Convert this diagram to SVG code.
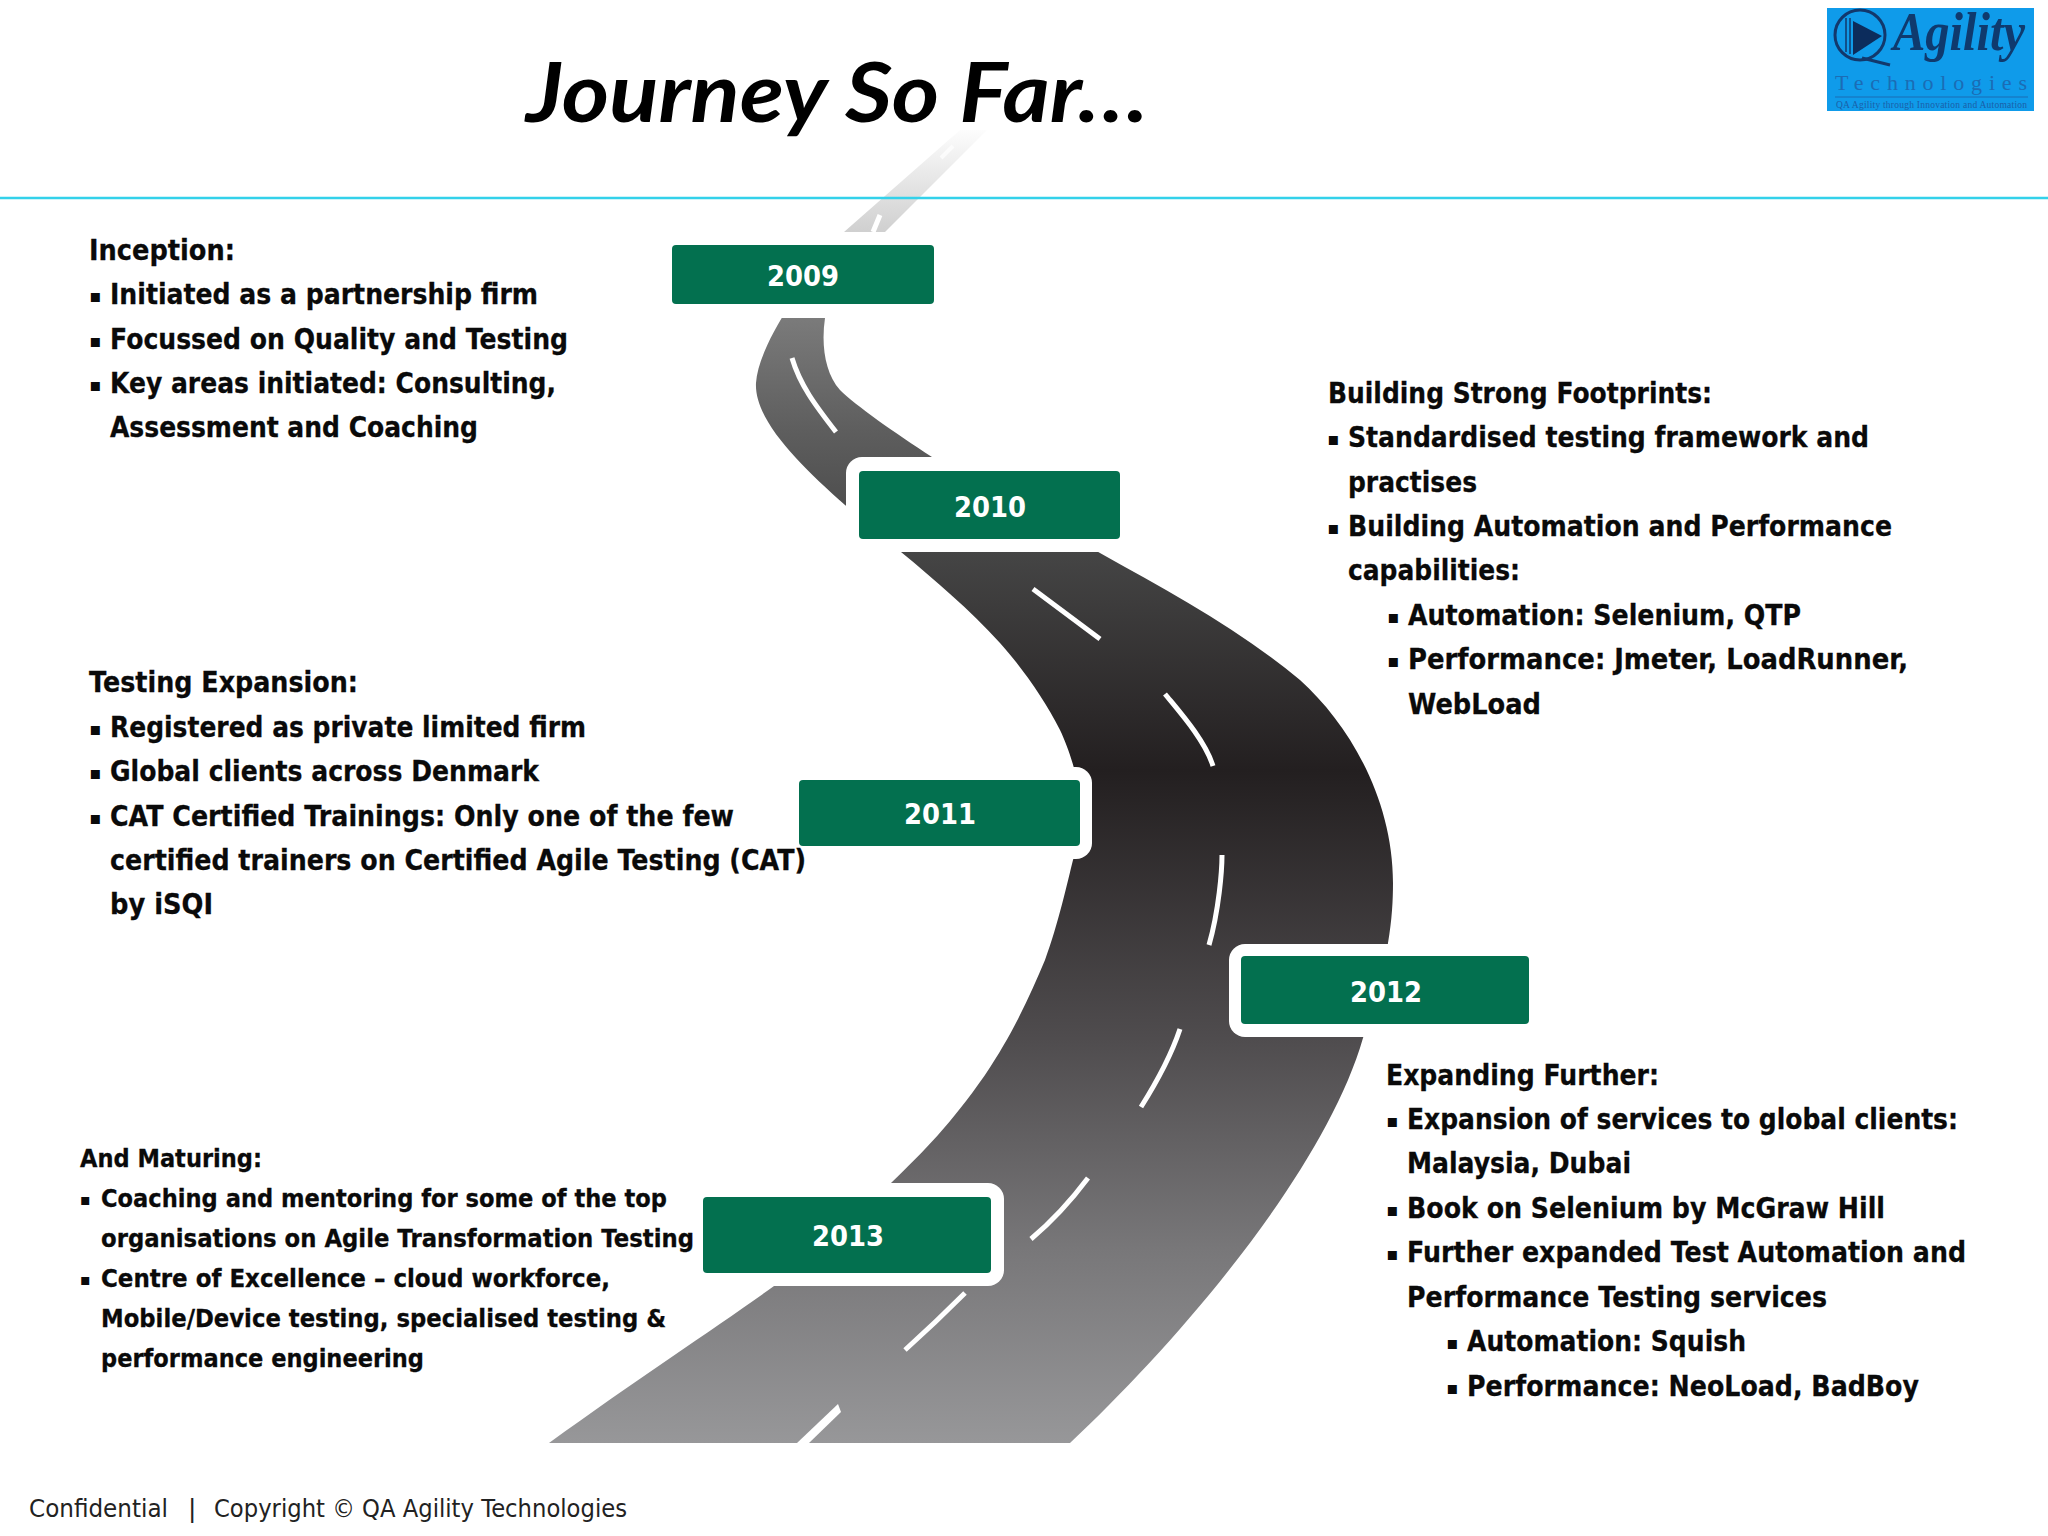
<svg xmlns="http://www.w3.org/2000/svg" width="2048" height="1536" viewBox="0 0 2048 1536">
<style>
.b{font-family:"DejaVu Sans",sans-serif;font-weight:700;font-size:28px;fill:#0a0a0a;stroke:#0a0a0a;stroke-width:.3px}
.s{font-size:25px}
.m{font-family:"DejaVu Sans",sans-serif;font-weight:700;font-size:18px;fill:#0a0a0a}
.y{font-family:"DejaVu Sans",sans-serif;font-weight:700;font-size:29px;fill:#fff;text-anchor:middle}
.box{fill:#03704f}
.halo{fill:#fff}
.dash{fill:none;stroke:#fff;stroke-width:5}
</style>
<defs>
<linearGradient id="rg" gradientUnits="userSpaceOnUse" x1="0" y1="125" x2="0" y2="1443">
<stop offset="0" stop-color="#ffffff"/><stop offset=".082" stop-color="#cfcfcf"/><stop offset=".148" stop-color="#7a7a7a"/><stop offset=".231" stop-color="#5e5e5e"/><stop offset=".324" stop-color="#454545"/><stop offset=".49" stop-color="#231f20"/><stop offset=".693" stop-color="#4f4c4e"/><stop offset=".853" stop-color="#787779"/><stop offset="1" stop-color="#979799"/>
</linearGradient>
</defs>
<rect width="2048" height="1536" fill="#fff"/>
<g id="road">
<path fill="url(#rg)" d="M960 130L844 232C814 268 759 340 756 383C754 420 800 465 845 505L901 552C935 580 970 610 1000 643C1020 665 1045 700 1060 730C1072 755 1085 800 1081 825C1080 840 1077 850 1073 860C1068 880 1058 925 1045 960C1030 995 1015 1030 985 1075C950 1125 925 1150 891 1183C850 1222 800 1265 774 1286C720 1325 640 1377 549 1443L1070 1443C1180 1340 1325 1170 1363 1038C1375 1005 1384 975 1388 943C1392 920 1393 900 1393 883C1393 800 1350 725 1300 680C1240 630 1170 592 1100 553L932 457C895 433 855 405 840 390C825 373 821 345 825 318L885 232L987 130Z"/>
<path d="M953 146L941 158" stroke="#fff" stroke-opacity=".7" stroke-width="4" fill="none"/>
<path class="dash" d="M880 215L873 232"/>
<path class="dash" d="M792 358C800 385 815 405 836 432"/>
<path class="dash" d="M1033 589L1100 639"/>
<path class="dash" d="M1165 694C1178 710 1205 740 1213 766"/>
<path class="dash" d="M1222 855C1222 870 1219 910 1209 945"/>
<path class="dash" d="M1180 1029C1173 1050 1158 1080 1141 1107"/>
<path class="dash" d="M1088 1178C1070 1202 1050 1223 1031 1239"/>
<path class="dash" d="M965 1293C945 1313 925 1332 905 1350"/>
<path fill="#fff" d="M838 1404L841 1412L809 1443L797 1443Z"/>
</g>
<g id="node-2009">
<rect class="halo" x="659" y="232" width="288" height="86" rx="16"/>
<rect class="box" x="672" y="245" width="262" height="59" rx="4"/>
<text class="y" x="803" y="286" textLength="72" lengthAdjust="spacingAndGlyphs">2009</text>
</g>
<g id="node-2010">
<rect class="halo" x="846" y="457" width="287" height="95" rx="16"/>
<rect class="box" x="859" y="471" width="261" height="68" rx="4"/>
<text class="y" x="990" y="517" textLength="72" lengthAdjust="spacingAndGlyphs">2010</text>
</g>
<g id="node-2011">
<rect class="halo" x="786" y="767" width="306" height="92" rx="16"/>
<rect class="box" x="799" y="780" width="281" height="66" rx="4"/>
<text class="y" x="940" y="824" textLength="72" lengthAdjust="spacingAndGlyphs">2011</text>
</g>
<g id="node-2012">
<rect class="halo" x="1229" y="944" width="313" height="93" rx="16"/>
<rect class="box" x="1241" y="956" width="288" height="68" rx="4"/>
<text class="y" x="1386" y="1002" textLength="72" lengthAdjust="spacingAndGlyphs">2012</text>
</g>
<g id="node-2013">
<rect class="halo" x="690" y="1183" width="314" height="103" rx="16"/>
<rect class="box" x="703" y="1197" width="288" height="76" rx="4"/>
<text class="y" x="848" y="1246" textLength="72" lengthAdjust="spacingAndGlyphs">2013</text>
</g>
<line id="rule" x1="0" y1="198" x2="2048" y2="198" stroke="#33d1ea" stroke-width="2.5"/>
<g id="title">
<text x="526" y="122" font-family="Lato,sans-serif" font-weight="700" font-style="italic" font-size="82" fill="#000" textLength="622" lengthAdjust="spacingAndGlyphs">Journey So Far…</text>
</g>
<g id="logo">
<rect x="1827" y="8" width="207" height="103" fill="#0f9bea"/>
<circle cx="1860" cy="35" r="25" fill="none" stroke="#12386c" stroke-width="3"/>
<path d="M1853 21L1882 36L1853 55Z" fill="#0c2c5c"/>
<path d="M1846 18V52M1850 18V54" stroke="#12386c" stroke-width="1.5"/>
<path d="M1862 58L1890 65" stroke="#12386c" stroke-width="3"/>
<text x="1893" y="50" font-family="'Liberation Serif',serif" font-style="italic" font-weight="700" font-size="54" fill="#0f3a6e" textLength="132" lengthAdjust="spacingAndGlyphs">Agility</text>
<text x="1835" y="90" font-family="'Liberation Serif',serif" font-size="22" fill="#1b6cb5" textLength="192">Technologies</text>
<line x1="1835" y1="97" x2="2028" y2="97" stroke="#1b6cb5" stroke-width="1"/>
<text x="1836" y="108" font-family="'Liberation Serif',serif" font-size="9.5" fill="#1b5fa8" textLength="191">QA Agility through Innovation and Automation</text>
</g>
<g id="inception">
<text class="b" x="89" y="260" textLength="146" lengthAdjust="spacingAndGlyphs">Inception:</text>
<text class="m" x="89" y="302">▪</text><text class="b" x="110" y="304" textLength="428" lengthAdjust="spacingAndGlyphs">Initiated as a partnership firm</text>
<text class="m" x="89" y="347">▪</text><text class="b" x="110" y="349" textLength="458" lengthAdjust="spacingAndGlyphs">Focussed on Quality and Testing</text>
<text class="m" x="89" y="391">▪</text><text class="b" x="110" y="393" textLength="446" lengthAdjust="spacingAndGlyphs">Key areas initiated: Consulting,</text>
<text class="b" x="110" y="437" textLength="368" lengthAdjust="spacingAndGlyphs">Assessment and Coaching</text>
</g>
<g id="footprints">
<text class="b" x="1328" y="402.7" textLength="384" lengthAdjust="spacingAndGlyphs">Building Strong Footprints:</text>
<text class="m" x="1327" y="445">▪</text><text class="b" x="1348" y="447" textLength="521" lengthAdjust="spacingAndGlyphs">Standardised testing framework and</text>
<text class="b" x="1348" y="491.5" textLength="129" lengthAdjust="spacingAndGlyphs">practises</text>
<text class="m" x="1327" y="534">▪</text><text class="b" x="1348" y="536" textLength="544" lengthAdjust="spacingAndGlyphs">Building Automation and Performance</text>
<text class="b" x="1348" y="580" textLength="172" lengthAdjust="spacingAndGlyphs">capabilities:</text>
<text class="m" x="1387" y="623">▪</text><text class="b" x="1408" y="625" textLength="393" lengthAdjust="spacingAndGlyphs">Automation: Selenium, QTP</text>
<text class="m" x="1387" y="667">▪</text><text class="b" x="1408" y="669" textLength="500" lengthAdjust="spacingAndGlyphs">Performance: Jmeter, LoadRunner,</text>
<text class="b" x="1408" y="713.5" textLength="133" lengthAdjust="spacingAndGlyphs">WebLoad</text>
</g>
<g id="expansion">
<text class="b" x="89" y="692" textLength="269" lengthAdjust="spacingAndGlyphs">Testing Expansion:</text>
<text class="m" x="89" y="735">▪</text><text class="b" x="110" y="737" textLength="476" lengthAdjust="spacingAndGlyphs">Registered as private limited firm</text>
<text class="m" x="89" y="779">▪</text><text class="b" x="110" y="781" textLength="429" lengthAdjust="spacingAndGlyphs">Global clients across Denmark</text>
<text class="m" x="89" y="824">▪</text><text class="b" x="110" y="826" textLength="624" lengthAdjust="spacingAndGlyphs">CAT Certified Trainings: Only one of the few</text>
<text class="b" x="110" y="870" textLength="696" lengthAdjust="spacingAndGlyphs">certified trainers on Certified Agile Testing (CAT)</text>
<text class="b" x="110" y="914" textLength="103" lengthAdjust="spacingAndGlyphs">by iSQI</text>
</g>
<g id="maturing">
<text class="b s" x="80" y="1167" textLength="182" lengthAdjust="spacingAndGlyphs">And Maturing:</text>
<text class="m" x="80" y="1204.5" style="font-size:16px">▪</text><text class="b s" x="101" y="1206.5" textLength="566" lengthAdjust="spacingAndGlyphs">Coaching and mentoring for some of the top</text>
<text class="b s" x="101" y="1246.5" textLength="593" lengthAdjust="spacingAndGlyphs">organisations on Agile Transformation Testing</text>
<text class="m" x="80" y="1284.5" style="font-size:16px">▪</text><text class="b s" x="101" y="1286.5" textLength="509" lengthAdjust="spacingAndGlyphs">Centre of Excellence – cloud workforce,</text>
<text class="b s" x="101" y="1326.5" textLength="565" lengthAdjust="spacingAndGlyphs">Mobile/Device testing, specialised testing &amp;</text>
<text class="b s" x="101" y="1366.5" textLength="323" lengthAdjust="spacingAndGlyphs">performance engineering</text>
</g>
<g id="further">
<text class="b" x="1386" y="1084.5" textLength="273" lengthAdjust="spacingAndGlyphs">Expanding Further:</text>
<text class="m" x="1386" y="1127">▪</text><text class="b" x="1407" y="1129" textLength="551" lengthAdjust="spacingAndGlyphs">Expansion of services to global clients:</text>
<text class="b" x="1407" y="1173" textLength="224" lengthAdjust="spacingAndGlyphs">Malaysia, Dubai</text>
<text class="m" x="1386" y="1216">▪</text><text class="b" x="1407" y="1218" textLength="478" lengthAdjust="spacingAndGlyphs">Book on Selenium by McGraw Hill</text>
<text class="m" x="1386" y="1260">▪</text><text class="b" x="1407" y="1262" textLength="559" lengthAdjust="spacingAndGlyphs">Further expanded Test Automation and</text>
<text class="b" x="1407" y="1307" textLength="420" lengthAdjust="spacingAndGlyphs">Performance Testing services</text>
<text class="m" x="1446" y="1349">▪</text><text class="b" x="1467" y="1351" textLength="279" lengthAdjust="spacingAndGlyphs">Automation: Squish</text>
<text class="m" x="1446" y="1394">▪</text><text class="b" x="1467" y="1396" textLength="452" lengthAdjust="spacingAndGlyphs">Performance: NeoLoad, BadBoy</text>
</g>
<g id="footer" font-family="'DejaVu Sans',sans-serif" font-size="25" fill="#222">
<text x="29" y="1517" textLength="139" lengthAdjust="spacingAndGlyphs">Confidential</text>
<text x="188" y="1517">|</text>
<text x="214" y="1517" textLength="413" lengthAdjust="spacingAndGlyphs">Copyright © QA Agility Technologies</text>
</g>
</svg>
